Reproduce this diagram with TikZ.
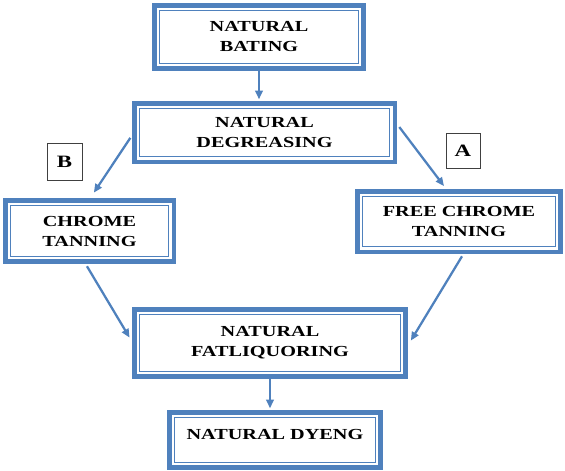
\documentclass[tikz,border=0pt]{standalone}
\usepackage{fontspec}
\setmainfont[FakeStretch=1.32]{Liberation Serif}
\usetikzlibrary{arrows.meta}
\definecolor{boxblue}{RGB}{79,129,189}
\begin{document}
\begin{tikzpicture}[x=0.75pt,y=-0.75pt,
  procbox/.style={draw=boxblue, line width=3.4pt, fill=white, align=center, inner sep=0pt,
     font=\bfseries\fontsize{11.5}{15}\selectfont,
     path picture={\draw[boxblue, line width=1.1pt]
        ([shift={(3.8pt,3.8pt)}]path picture bounding box.south west) rectangle
        ([shift={(-3.8pt,-3.8pt)}]path picture bounding box.north east);}},
  lbl/.style={draw=black!75, line width=0.6pt, inner sep=0pt,
     font=\bfseries\fontsize{13}{15}\selectfont},
  flow/.style={draw=boxblue, line width=1.7pt, -{Triangle[length=6.5pt,width=5.5pt]},
     shorten >=1.2pt}
]
\useasboundingbox (0,0) rectangle (565,471);

\node[procbox, minimum width=157.1pt, minimum height=47.6pt] (bat) at (259,37) {NATURAL\\BATING};
\node[procbox, minimum width=195.4pt, minimum height=43.9pt] (deg) at (264.5,132.5) {NATURAL\\DEGREASING};
\node[procbox, minimum width=126.4pt, minimum height=46.1pt] (chr) at (89.5,231) {CHROME\\TANNING};
\node[procbox, minimum width=152.6pt, minimum height=45.4pt] (fre) at (459,221.5) {FREE CHROME\\TANNING};
\node[procbox, minimum width=203.6pt, minimum height=50.6pt] (fat) at (270,343) {NATURAL\\FATLIQUORING};
\node[procbox, minimum width=158.6pt, minimum height=41.6pt] (dye) at (275,440) {NATURAL DYENG\\[-11.5pt]\strut};

\node[lbl, minimum width=26.25pt, minimum height=27.75pt] (lb) at (64.5,161.5) {B};
\node[lbl, minimum width=25.5pt, minimum height=26.25pt] (la) at (463,150.5) {A};

\draw[flow] (bat.south) -- (bat.south |- deg.north);
\draw[flow] ([xshift=-1.2pt,yshift=-4pt]deg.west) -- ([xshift=2.6pt,yshift=3pt]chr.north);
\draw[flow] ([xshift=1.7pt,yshift=4.1pt]deg.east) -- ([xshift=-10.5pt,yshift=1.2pt]fre.north);
\draw[flow] ([xshift=-1.9pt,yshift=-1.7pt]chr.south) -- ([xshift=-1.2pt,yshift=3pt]fat.west);
\draw[flow] ([xshift=2.25pt,yshift=-1.7pt]fre.south) -- ([xshift=1.5pt,yshift=0.75pt]fat.east);
\draw[flow] (fat.south) -- (fat.south |- dye.north);
\end{tikzpicture}
\end{document}
